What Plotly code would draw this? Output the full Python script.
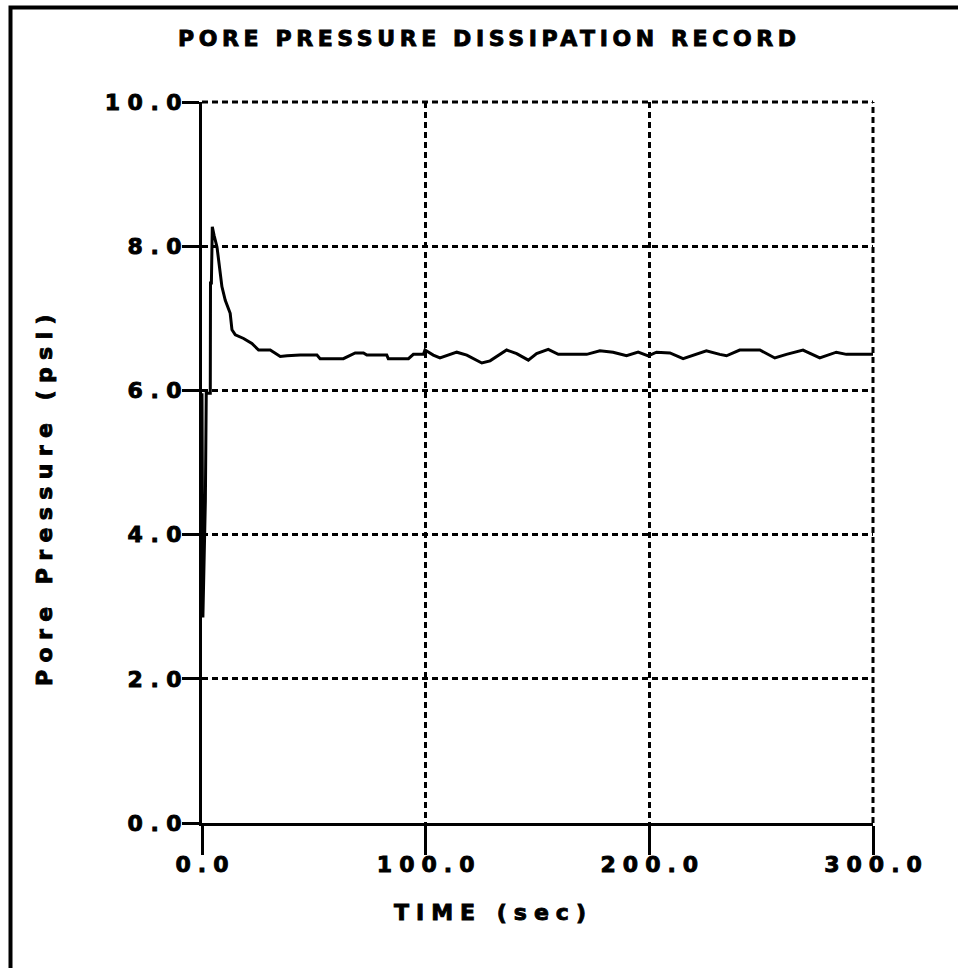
import plotly.graph_objects as go

# ---------------- data ----------------
time_sec = [0, 0.4, 1.5, 1.9, 3.7, 3.8, 4.2, 4.6, 5.4, 6.7, 8.9, 10.4, 12.6, 13.4, 14.9,
            18.6, 22.3, 25.3, 30.5, 35.0, 38.0, 43.9, 51.4, 52.8, 63.2, 68.5, 72.2,
            73.7, 82.6, 83.3, 92.3, 94.5, 99.0, 99.7, 103.4, 106.4, 113.9, 118.4,
            125.1, 128.8, 136.2, 140.7, 145.9, 149.6, 154.8, 159.3, 172.0, 177.9,
            183.8, 189.8, 195.0, 199.5, 203.2, 209.2, 215.1, 220.3, 225.5, 231.5,
            234.5, 240.4, 249.4, 256.1, 261.3, 268.7, 276.2, 283.6, 288.1, 300.0]
pore_psi = [5.96, 2.85, 4.47, 5.96, 5.96, 7.49, 7.49, 8.27, 8.15, 7.99, 7.44, 7.25, 7.07, 6.84, 6.77,
            6.72, 6.65, 6.56, 6.56, 6.47, 6.48, 6.49, 6.49, 6.44, 6.44, 6.52, 6.52,
            6.49, 6.49, 6.44, 6.44, 6.50, 6.50, 6.56, 6.49, 6.45, 6.53, 6.49,
            6.38, 6.41, 6.56, 6.51, 6.42, 6.51, 6.57, 6.50, 6.50, 6.55,
            6.53, 6.48, 6.53, 6.48, 6.53, 6.52, 6.44, 6.49, 6.55, 6.50,
            6.48, 6.56, 6.56, 6.45, 6.50, 6.56, 6.45, 6.53, 6.50, 6.50]

x_tick_vals = [0, 100, 200, 300]
x_tick_labels = ["0.0", "100.0", "200.0", "300.0"]
y_tick_vals = [0, 2, 4, 6, 8, 10]
y_tick_labels = ["0.0", "2.0", "4.0", "6.0", "8.0", "10.0"]

title_text = "PORE PRESSURE DISSIPATION RECORD"
x_title = "TIME (sec)"
y_title = "Pore Pressure (psi)"

# ---------------- style ----------------
W, H = 958, 968
ML, MR, MT, MB = 202, 85, 102, 145
PW, PH = W - ML - MR, H - MT - MB
FONT = "DejaVu Sans"
FS = 22
HEAVY = "stroke:black;stroke-width:0.9px"


def spaced(s, ls):
    return (f'<span style="letter-spacing:{ls}px;{HEAVY}">{s[:-1]}</span>'
            f'<span style="{HEAVY}">{s[-1]}</span>')


def xp(px):
    return (px - ML) / PW


def yp(py):
    return (H - MB - py) / PH


font = dict(family=FONT, size=FS, color="black", weight="bold")
grid_dash = "6px,4px"

fig = go.Figure()
fig.add_trace(go.Scatter(x=time_sec, y=pore_psi, mode="lines",
                         line=dict(color="black", width=3), showlegend=False))

axis_common = dict(showline=True, linecolor="black", linewidth=3,
                   ticks="outside", tickcolor="black", tickwidth=3,
                   showgrid=True, gridcolor="black", gridwidth=2.5,
                   griddash=grid_dash, zeroline=False, tickfont=font)

fig.update_xaxes(range=[0, 300], tickmode="array", tickvals=x_tick_vals,
                 ticktext=[spaced(t, 7.0) for t in x_tick_labels], ticklen=29,
                 ticklabelstandoff=-9, **axis_common)
fig.update_yaxes(range=[0, 10], tickmode="array", tickvals=y_tick_vals,
                 ticktext=[spaced(t, 7.5) for t in y_tick_labels], ticklen=17,
                 ticklabelstandoff=-4, **axis_common)

fig.update_layout(
    width=W, height=H,
    margin=dict(l=ML, r=MR, t=MT, b=MB, pad=0),
    paper_bgcolor="white", plot_bgcolor="white",
    font=font,
    title=dict(text=spaced(title_text, 4.6), x=487 / W, y=1 - 38 / H,
               xref="container", yref="container",
               xanchor="center", yanchor="middle", font=font),
    annotations=[
        dict(text=spaced(x_title, 7.0), x=xp(490), y=yp(912), xref="paper", yref="paper",
             xanchor="center", yanchor="middle", showarrow=False, font=font),
        dict(text=spaced(y_title, 7.4), x=xp(44), y=yp(500), xref="paper", yref="paper",
             xanchor="center", yanchor="middle", showarrow=False, textangle=-90, font=font),
    ],
    shapes=[
        # dotted grid at the top and right edges of the plot
        dict(type="line", xref="paper", yref="paper", x0=0, x1=1, y0=1, y1=1,
             line=dict(color="black", width=3, dash=grid_dash), layer="above"),
        dict(type="line", xref="paper", yref="paper", x0=1, x1=1, y0=0, y1=1,
             line=dict(color="black", width=3, dash=grid_dash), layer="above"),
        # page frame (left and top)
        dict(type="rect", xref="paper", yref="paper", x0=xp(10.5), x1=xp(W + 10),
             y0=yp(H + 10), y1=yp(7.5), line=dict(color="black", width=4),
             fillcolor="rgba(0,0,0,0)"),
    ],
)

fig.write_html("out.html", config={"displayModeBar": False},
               post_script="document.body.style.margin='0';")
